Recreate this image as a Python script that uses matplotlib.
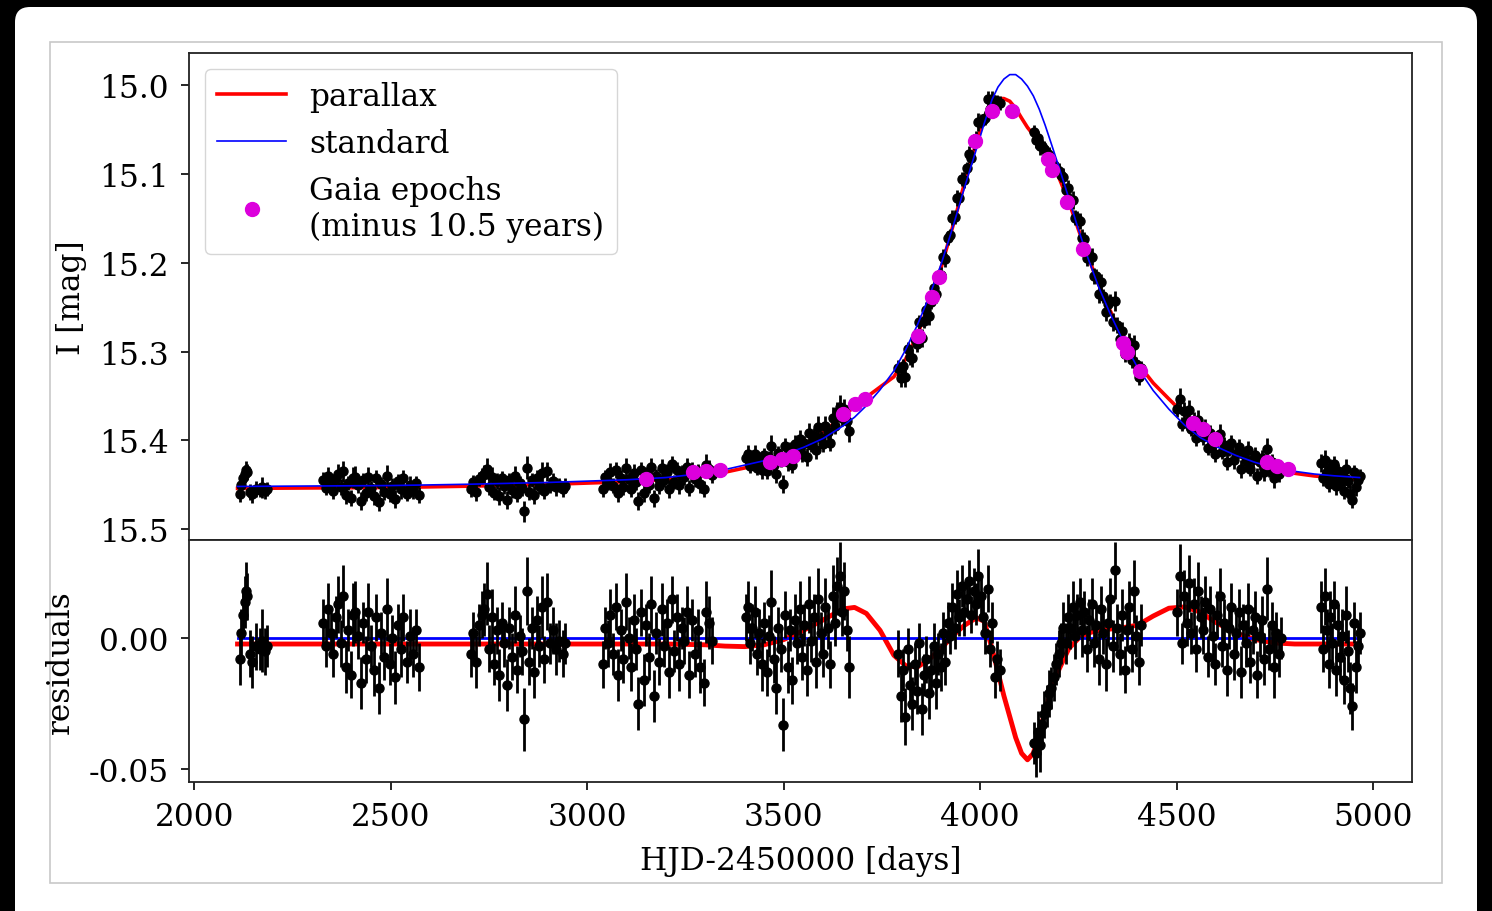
import numpy as np
import matplotlib
matplotlib.use("Agg")
from matplotlib import pyplot as plt
from matplotlib.patches import FancyBboxPatch, Rectangle

plt.rcParams['font.family'] = 'serif'
plt.rcParams['font.serif'] = ['DejaVu Serif']
plt.rcParams['axes.unicode_minus'] = False

# Observed light curve, one block per observing season
# t = HJD-2450000, mag = I magnitude, res = residual to standard model, err = error
t1 = [2117, 2120, 2124, 2128, 2131, 2135, 2141, 2146, 2158, 2166, 2173, 2180, 2186]
mag1 = [15.460, 15.450, 15.443, 15.438, 15.434, 15.436, 15.458, 15.461, 15.455, 15.456, 15.453, 15.457, 15.455]
res1 = [-0.008, 0.002, 0.009, 0.014, 0.018, 0.016, -0.006, -0.009, -0.003, -0.004, -0.001, -0.005, -0.003]
err1 = [0.010, 0.009, 0.009, 0.010, 0.011, 0.009, 0.009, 0.010, 0.009, 0.008, 0.012, 0.009, 0.008]

t2 = [2328, 2334, 2340, 2347, 2353, 2360, 2366, 2372, 2379, 2385, 2391, 2398, 2404, 2410, 2417, 2423, 2430, 2436, 2443,
      2449, 2456, 2462, 2469, 2476, 2483, 2490, 2497, 2504, 2511, 2518, 2525, 2532, 2540, 2548, 2556, 2564, 2572]
mag2 = [15.445, 15.454, 15.440, 15.449, 15.457, 15.443, 15.438, 15.453, 15.435, 15.462, 15.448, 15.465, 15.442, 15.441,
        15.450, 15.468, 15.445, 15.459, 15.441, 15.454, 15.463, 15.443, 15.470, 15.449, 15.458, 15.440, 15.461, 15.451,
        15.466, 15.446, 15.455, 15.443, 15.460, 15.450, 15.457, 15.448, 15.462]
res2 = [0.006, -0.003, 0.011, 0.002, -0.006, 0.008, 0.013, -0.002, 0.016, -0.011, 0.003, -0.014, 0.009, 0.010, 0.001,
        -0.017, 0.006, -0.008, 0.010, -0.003, -0.012, 0.008, -0.019, 0.002, -0.007, 0.011, -0.010, 0.000, -0.015, 0.005,
        -0.004, 0.008, -0.009, 0.001, -0.006, 0.003, -0.011]
err2 = [0.009, 0.008, 0.010, 0.008, 0.009, 0.008, 0.011, 0.009, 0.012, 0.010, 0.008, 0.009, 0.012, 0.012, 0.009, 0.010,
        0.008, 0.009, 0.011, 0.008, 0.010, 0.009, 0.010, 0.008, 0.009, 0.012, 0.008, 0.009, 0.010, 0.008, 0.011, 0.009,
        0.008, 0.010, 0.009, 0.008, 0.009]

t3 = [2703, 2710, 2717, 2724, 2731, 2738, 2744, 2750, 2757, 2763, 2770, 2776, 2783, 2789, 2796, 2802, 2809, 2815, 2822,
      2828, 2835, 2840, 2846, 2852, 2859, 2865, 2872, 2878, 2885, 2891, 2898, 2905, 2913, 2921, 2929, 2937, 2943]
mag3 = [15.455, 15.447, 15.458, 15.444, 15.440, 15.438, 15.432, 15.453, 15.441, 15.459, 15.446, 15.463, 15.443, 15.451,
        15.467, 15.445, 15.456, 15.440, 15.461, 15.448, 15.454, 15.480, 15.431, 15.458, 15.445, 15.462, 15.442, 15.452,
        15.437, 15.457, 15.435, 15.451, 15.446, 15.453, 15.450, 15.455, 15.451]
res3 = [-0.006, 0.002, -0.009, 0.005, 0.009, 0.011, 0.017, -0.004, 0.008, -0.010, 0.003, -0.014, 0.006, -0.002, -0.018,
        0.004, -0.007, 0.009, -0.012, 0.001, -0.005, -0.031, 0.018, -0.009, 0.004, -0.013, 0.007, -0.003, 0.012, -0.008,
        0.014, -0.002, 0.003, -0.004, -0.001, -0.006, -0.002]
err3 = [0.009, 0.008, 0.010, 0.008, 0.009, 0.010, 0.012, 0.009, 0.011, 0.008, 0.009, 0.010, 0.008, 0.009, 0.010, 0.008,
        0.009, 0.011, 0.009, 0.008, 0.009, 0.012, 0.013, 0.009, 0.008, 0.010, 0.009, 0.008, 0.012, 0.009, 0.011, 0.008,
        0.009, 0.010, 0.008, 0.009, 0.008]

t4 = [3040, 3046, 3053, 3059, 3066, 3072, 3079, 3085, 3092, 3098, 3105, 3111, 3118, 3124, 3130, 3137, 3143, 3150, 3156,
      3163, 3169, 3176, 3182, 3189, 3195, 3202, 3208, 3215, 3221, 3228, 3234, 3241, 3247, 3254, 3260, 3267, 3274, 3281,
      3288, 3296, 3303, 3310, 3318]
mag4 = [15.455, 15.441, 15.447, 15.436, 15.451, 15.433, 15.459, 15.442, 15.453, 15.431, 15.4435, 15.4545, 15.4365,
        15.4475, 15.4685, 15.4335, 15.4595, 15.4385, 15.4505, 15.4305, 15.4655, 15.440, 15.451, 15.431, 15.445, 15.436,
        15.455, 15.427, 15.447, 15.434, 15.450, 15.436, 15.441, 15.430, 15.454, 15.433, 15.444, 15.435, 15.449, 15.455,
        15.428, 15.432, 15.439]
res4 = [-0.010, 0.004, -0.002, 0.009, -0.006, 0.012, -0.014, 0.003, -0.008, 0.014, 0.000, -0.011, 0.007, -0.004, -0.025,
        0.010, -0.016, 0.005, -0.007, 0.013, -0.022, 0.002, -0.009, 0.011, -0.003, 0.006, -0.013, 0.015, -0.005, 0.008,
        -0.010, 0.004, -0.001, 0.010, -0.014, 0.007, -0.006, 0.003, -0.011, -0.017, 0.010, 0.006, -0.001]
err4 = [0.009, 0.008, 0.009, 0.010, 0.008, 0.009, 0.010, 0.008, 0.009, 0.011, 0.008, 0.009, 0.010, 0.008, 0.010, 0.009,
        0.010, 0.008, 0.009, 0.011, 0.010, 0.008, 0.009, 0.010, 0.008, 0.009, 0.010, 0.009, 0.008, 0.009, 0.010, 0.008,
        0.009, 0.010, 0.009, 0.008, 0.009, 0.008, 0.010, 0.009, 0.012, 0.010, 0.009]

t5 = [3403, 3409, 3414, 3420, 3426, 3432, 3438, 3444, 3450, 3456, 3462, 3468, 3474, 3480, 3486, 3492, 3498, 3504, 3510,
      3516, 3522, 3528, 3534, 3540, 3546, 3552, 3558, 3564, 3570, 3576, 3582, 3588, 3594, 3600, 3606, 3612, 3618, 3624,
      3630, 3636, 3642, 3648, 3654, 3660, 3666]
mag5 = [15.420, 15.415, 15.429, 15.422, 15.415, 15.431, 15.422, 15.434, 15.417, 15.435, 15.420, 15.406, 15.428, 15.438,
        15.414, 15.421, 15.449, 15.406, 15.425, 15.410, 15.428, 15.404, 15.413, 15.399, 15.416, 15.403, 15.419, 15.392,
        15.405, 15.395, 15.411, 15.385, 15.397, 15.404, 15.384, 15.391, 15.403, 15.375, 15.384, 15.368, 15.362, 15.375,
        15.365, 15.378, 15.390]
res5 = [0.008, 0.012, -0.002, 0.004, 0.010, -0.006, 0.002, -0.010, 0.006, -0.013, 0.001, 0.014, -0.008, -0.019, 0.004,
        -0.004, -0.033, 0.009, -0.011, 0.003, -0.016, 0.007, -0.002, 0.011, -0.007, 0.005, -0.012, 0.013, -0.001, 0.008,
        -0.009, 0.015, 0.002, -0.006, 0.012, 0.004, -0.010, 0.016, 0.006, 0.020, 0.024, 0.010, 0.018, 0.003, -0.011]
err5 = [0.009, 0.010, 0.008, 0.009, 0.010, 0.008, 0.009, 0.010, 0.008, 0.009, 0.008, 0.012, 0.009, 0.010, 0.008, 0.009,
        0.010, 0.009, 0.010, 0.008, 0.009, 0.010, 0.008, 0.011, 0.009, 0.008, 0.010, 0.011, 0.008, 0.009, 0.010, 0.012,
        0.008, 0.009, 0.011, 0.008, 0.009, 0.012, 0.009, 0.011, 0.013, 0.009, 0.011, 0.008, 0.012]

# rising branch up to the peak
t6 = [3791, 3797, 3803, 3809, 3815, 3821, 3827, 3833, 3839, 3845, 3851, 3857, 3863, 3869, 3875, 3881, 3887, 3893, 3899,
      3905, 3911, 3917, 3923, 3929, 3935, 3941, 3947, 3953, 3959, 3965, 3971, 3977, 3983, 3989, 3995, 4001, 4007, 4013,
      4019, 4025, 4031, 4037, 4043, 4049]
mag6 = [15.319, 15.330, 15.316, 15.329, 15.297, 15.306, 15.307, 15.286, 15.291, 15.267, 15.285, 15.266, 15.253, 15.260,
        15.244, 15.228, 15.235, 15.216, 15.214, 15.193, 15.196, 15.172, 15.169, 15.149, 15.148, 15.127, 15.127, 15.106,
        15.107, 15.093, 15.077, 15.082, 15.064, 15.060, 15.041, 15.040, 15.039, 15.037, 15.016, 15.027, 15.015, 15.025,
        15.018, 15.020]
res6 = [-0.006, -0.022, -0.012, -0.030, -0.004, -0.018, -0.025, -0.010, -0.020, -0.002, -0.027, -0.014, -0.008, -0.021,
        -0.012, -0.003, -0.017, -0.006, -0.011, 0.002, -0.009, 0.006, 0.001, 0.012, 0.004, 0.017, 0.008, 0.020, 0.010,
        0.015, 0.022, 0.009, 0.018, 0.013, 0.024, 0.016, 0.008, 0.002, 0.019, -0.004, 0.006, -0.015, -0.008, -0.012]
err6 = [0.009, 0.010, 0.008, 0.011, 0.008, 0.009, 0.010, 0.008, 0.009, 0.008, 0.010, 0.008, 0.009, 0.010, 0.008, 0.009,
        0.010, 0.008, 0.009, 0.008, 0.009, 0.008, 0.007, 0.009, 0.008, 0.009, 0.007, 0.008, 0.009, 0.007, 0.008, 0.007,
        0.009, 0.008, 0.010, 0.008, 0.007, 0.008, 0.009, 0.007, 0.008, 0.008, 0.007, 0.008]

# falling branch after the peak
t7 = [4136, 4141, 4146, 4151, 4157, 4163, 4169, 4175, 4181, 4187, 4193, 4199, 4205, 4211, 4217, 4223, 4229, 4235, 4241,
      4247, 4253, 4259, 4265, 4271, 4277, 4283, 4289, 4295, 4301, 4307, 4313, 4319, 4325, 4331, 4337, 4343, 4349, 4355,
      4361, 4367, 4373, 4379, 4385, 4391, 4397, 4403, 4409]
mag7 = [15.053, 15.062, 15.059, 15.069, 15.068, 15.072, 15.076, 15.079, 15.085, 15.090, 15.093, 15.097, 15.101, 15.103,
        15.118, 15.116, 15.129, 15.129, 15.149, 15.150, 15.153, 15.172, 15.173, 15.195, 15.191, 15.193, 15.215, 15.215,
        15.235, 15.222, 15.237, 15.256, 15.246, 15.243, 15.2665, 15.243, 15.2705, 15.286, 15.277, 15.303, 15.293,
        15.289, 15.310, 15.293, 15.3145, 15.329, 15.319]
res7 = [-0.040, -0.044, -0.036, -0.041, -0.033, -0.029, -0.026, -0.021, -0.019, -0.015, -0.010, -0.006, -0.002, 0.004,
        -0.002, 0.008, 0.004, 0.012, 0.001, 0.009, 0.014, 0.003, 0.010, -0.004, 0.007, 0.013, -0.002, 0.005, -0.008,
        0.011, 0.002, -0.010, 0.006, 0.015, -0.003, 0.026, 0.004, -0.006, 0.009, -0.012, 0.003, 0.012, -0.004, 0.018,
        0.001, -0.009, 0.005]
err7 = [0.008, 0.009, 0.008, 0.010, 0.008, 0.009, 0.008, 0.009, 0.008, 0.009, 0.008, 0.009, 0.008, 0.010, 0.008, 0.009,
        0.008, 0.010, 0.009, 0.008, 0.009, 0.010, 0.008, 0.009, 0.008, 0.010, 0.009, 0.008, 0.010, 0.009, 0.008, 0.010,
        0.009, 0.008, 0.010, 0.011, 0.009, 0.008, 0.010, 0.009, 0.008, 0.010, 0.009, 0.012, 0.008, 0.009, 0.008]

t8 = [4501, 4507, 4513, 4519, 4525, 4531, 4537, 4543, 4549, 4555, 4561, 4567, 4573, 4579, 4585, 4591, 4597, 4603, 4609,
      4615, 4621, 4627, 4633, 4639, 4645, 4651, 4657, 4663, 4669, 4675, 4681, 4687, 4693, 4699, 4705, 4711, 4717, 4723,
      4729, 4735, 4741, 4747, 4753, 4759, 4765]
mag8 = [15.3645, 15.353, 15.382, 15.367, 15.379, 15.366, 15.387, 15.378, 15.397, 15.377, 15.389, 15.396, 15.386, 15.409,
        15.392, 15.404, 15.416, 15.399, 15.393, 15.413, 15.405, 15.424, 15.410, 15.403, 15.422, 15.415, 15.408, 15.432,
        15.415, 15.423, 15.411, 15.432, 15.421, 15.417, 15.440, 15.425, 15.420, 15.436, 15.4095, 15.433, 15.425,
        15.442, 15.429, 15.438, 15.433]
res8 = [0.010, 0.024, -0.002, 0.016, 0.006, 0.021, 0.002, 0.013, -0.004, 0.018, 0.008, 0.003, 0.014, -0.007, 0.011,
        0.001, -0.010, 0.009, 0.016, -0.003, 0.006, -0.012, 0.004, 0.012, -0.006, 0.002, 0.010, -0.013, 0.005, -0.002,
        0.011, -0.009, 0.003, 0.008, -0.014, 0.001, 0.007, -0.008, 0.019, -0.004, 0.005, -0.011, 0.002, -0.006, 0.000]
err8 = [0.009, 0.012, 0.008, 0.010, 0.009, 0.011, 0.008, 0.010, 0.009, 0.011, 0.008, 0.009, 0.010, 0.008, 0.009, 0.010,
        0.008, 0.009, 0.011, 0.008, 0.009, 0.010, 0.008, 0.009, 0.010, 0.008, 0.009, 0.010, 0.008, 0.009, 0.010, 0.008,
        0.009, 0.010, 0.009, 0.008, 0.009, 0.010, 0.012, 0.008, 0.009, 0.012, 0.008, 0.009, 0.008]

t9 = [4866, 4871, 4876, 4881, 4886, 4891, 4896, 4901, 4906, 4911, 4916, 4921, 4926, 4931, 4936, 4941, 4946, 4951, 4956,
      4961, 4965]
mag9 = [15.426, 15.442, 15.422, 15.4355, 15.449, 15.431, 15.4415, 15.427, 15.452, 15.435, 15.4475, 15.440, 15.457,
        15.432, 15.446, 15.460, 15.4675, 15.436, 15.453, 15.445, 15.440]
res9 = [0.012, -0.004, 0.016, 0.003, -0.010, 0.008, -0.002, 0.013, -0.012, 0.005, -0.007, 0.001, -0.016, 0.009, -0.005,
        -0.019, -0.026, 0.006, -0.011, -0.003, 0.002]
err9 = [0.010, 0.009, 0.011, 0.008, 0.009, 0.010, 0.008, 0.009, 0.010, 0.008, 0.009, 0.010, 0.009, 0.011, 0.008, 0.010,
        0.009, 0.008, 0.010, 0.009, 0.008]

# Model curves
t_model = [2110, 2300, 2500, 2700, 2900, 3100, 3200, 3300, 3350, 3400, 3450, 3500, 3550, 3600, 3650, 3680, 3710, 3745,
           3780, 3810, 3840, 3870, 3900, 3930, 3960, 3990, 4010, 4030, 4045, 4060, 4075, 4090, 4105, 4120, 4135, 4150,
           4165, 4180, 4200, 4225, 4250, 4275, 4300, 4330, 4360, 4400, 4440, 4480, 4520, 4560, 4600, 4650, 4700, 4750,
           4800, 4850, 4900, 4965]
standard_mag = [15.452, 15.4515, 15.451, 15.4495, 15.4475, 15.4445, 15.442, 15.437, 15.433, 15.428, 15.423, 15.416,
                15.408, 15.398, 15.384, 15.374, 15.361, 15.343, 15.322, 15.298, 15.270, 15.238, 15.202, 15.160, 15.115,
                15.072, 15.043, 15.016, 15.002, 14.993, 14.988, 14.988, 14.993, 15.001, 15.012, 15.027, 15.045, 15.065,
                15.092, 15.127, 15.163, 15.196, 15.226, 15.257, 15.285, 15.318, 15.344, 15.365, 15.383, 15.397, 15.407,
                15.417, 15.425, 15.431, 15.435, 15.438, 15.440, 15.442]
parallax_mag = [15.4542, 15.4537, 15.4532, 15.4517, 15.4497, 15.4467, 15.4442, 15.4395, 15.436, 15.4312, 15.4255,
                15.4165, 15.405, 15.391, 15.3728, 15.3622, 15.3515, 15.340, 15.3285, 15.3085, 15.281, 15.246, 15.206,
                15.159, 15.110, 15.0642, 15.0365, 15.020, 15.015, 15.015, 15.018, 15.026, 15.037, 15.0475, 15.056,
                15.063, 15.073, 15.085, 15.104, 15.131, 15.163, 15.194, 15.223, 15.2535, 15.281, 15.313, 15.3355,
                15.3535, 15.371, 15.387, 15.401, 15.415, 15.4255, 15.4328, 15.4372, 15.4402, 15.4422, 15.4442]
parallax_res = [-0.0022, -0.0022, -0.0022, -0.0022, -0.0022, -0.0022, -0.0022, -0.0025, -0.003, -0.0032, -0.0025,
                -0.0005, 0.003, 0.007, 0.0112, 0.0118, 0.0095, 0.003, -0.0065, -0.0105, -0.011, -0.008, -0.004, 0.001,
                0.005, 0.0078, 0.0065, -0.004, -0.013, -0.022, -0.030, -0.038, -0.044, -0.0465, -0.044, -0.036, -0.028,
                -0.020, -0.012, -0.004, 0.000, 0.002, 0.003, 0.0035, 0.004, 0.005, 0.0085, 0.0115, 0.012, 0.010, 0.006,
                0.002, -0.0005, -0.0018, -0.0022, -0.0022, -0.0022, -0.0022]
standard_res = [0.0] * len(t_model)

# Gaia epochs shifted by 10.5 years
gaia_t = [3150, 3269, 3303, 3337, 3466, 3496, 3524, 3650, 3681, 3707, 3842, 3877, 3895, 3987, 4030, 4081, 4172, 4183,
          4221, 4262, 4364, 4374, 4407, 4541, 4567, 4597, 4730, 4755, 4783]
gaia_mag = [15.444, 15.436, 15.435, 15.434, 15.424, 15.421, 15.418, 15.370, 15.359, 15.354, 15.283, 15.239, 15.216,
            15.063, 15.029, 15.029, 15.083, 15.095, 15.132, 15.185, 15.290, 15.301, 15.322, 15.380, 15.387, 15.399,
            15.425, 15.429, 15.432]

t_obs = np.concatenate([t1, t2, t3, t4, t5, t6, t7, t8, t9])
mag_obs = np.concatenate([mag1, mag2, mag3, mag4, mag5, mag6, mag7, mag8, mag9])
res_obs = np.concatenate([res1, res2, res3, res4, res5, res6, res7, res8, res9])
err_obs = np.concatenate([err1, err2, err3, err4, err5, err6, err7, err8, err9])

magenta = '#dc00dc'
fs = 22.5

fig = plt.figure(figsize=(14.92, 9.12), dpi=100, facecolor='black')

# screenshot frame: white page with rounded corners and a thin grey border
fig.patches.append(FancyBboxPatch((0.15, -0.3), 14.62, 9.34, boxstyle='round,pad=0,rounding_size=0.15',
                                  transform=fig.dpi_scale_trans, facecolor='white', edgecolor='none', zorder=-3))
fig.patches.append(Rectangle((0.50, 0.28), 13.92, 8.41, transform=fig.dpi_scale_trans, facecolor='none',
                             edgecolor='#c8c8c8', linewidth=1.2, zorder=-2))

ax = fig.add_axes([0.12668, 0.40713, 0.8195, 0.53333])
ax2 = fig.add_axes([0.12668, 0.14112, 0.8195, 0.26601], sharex=ax)

# upper panel: light curve
ax.plot(t_model, parallax_mag, color='red', lw=2.6, label='parallax', zorder=1)
ax.errorbar(t_obs, mag_obs, yerr=err_obs, fmt='o', color='black', ms=6.5, elinewidth=2.0, capsize=0, zorder=2)
ax.plot(t_model, standard_mag, color='blue', lw=1.2, label='standard', zorder=3)
ax.plot(gaia_t, gaia_mag, 'o', color=magenta, ms=10, label='Gaia epochs\n(minus 10.5 years)', zorder=4)

ax.set_xlim(1986.5, 5097.7)
ax.set_ylim(15.512, 14.964)
ax.set_yticks([15.0, 15.1, 15.2, 15.3, 15.4, 15.5])
ax.set_ylabel('I [mag]', fontsize=fs, labelpad=9)
ax.tick_params(axis='x', bottom=False, labelbottom=False)
ax.legend(loc='upper left', fontsize=fs, handlelength=2.2, handletextpad=0.75, borderaxespad=0.5)

# lower panel: residuals
ax2.plot(t_model, parallax_res, color='red', lw=3.5, zorder=1)
ax2.plot(t_model, standard_res, color='blue', lw=2.0, zorder=2)
ax2.errorbar(t_obs, res_obs, yerr=err_obs, fmt='o', color='black', ms=6.5, elinewidth=2.0, capsize=0, zorder=3)
ax2.set_ylim(-0.0551, 0.0377)
ax2.set_yticks([-0.05, 0.0])
ax2.set_yticklabels(['-0.05', '0.00'])
ax2.set_xticks([2000, 2500, 3000, 3500, 4000, 4500, 5000])
ax2.set_ylabel('residuals', fontsize=fs, labelpad=9)
ax2.set_xlabel('HJD-2450000 [days]', fontsize=fs, labelpad=9)

for a in (ax, ax2):
    a.tick_params(axis='y', labelsize=fs, length=6, width=1.2, pad=8.5)
    a.tick_params(axis='x', labelsize=fs, length=6, width=1.2, pad=7.5)
    for s in a.spines.values():
        s.set_linewidth(1.3)
        s.set_color('#222222')

fig.savefig('out.png', dpi=100, facecolor=fig.get_facecolor())
